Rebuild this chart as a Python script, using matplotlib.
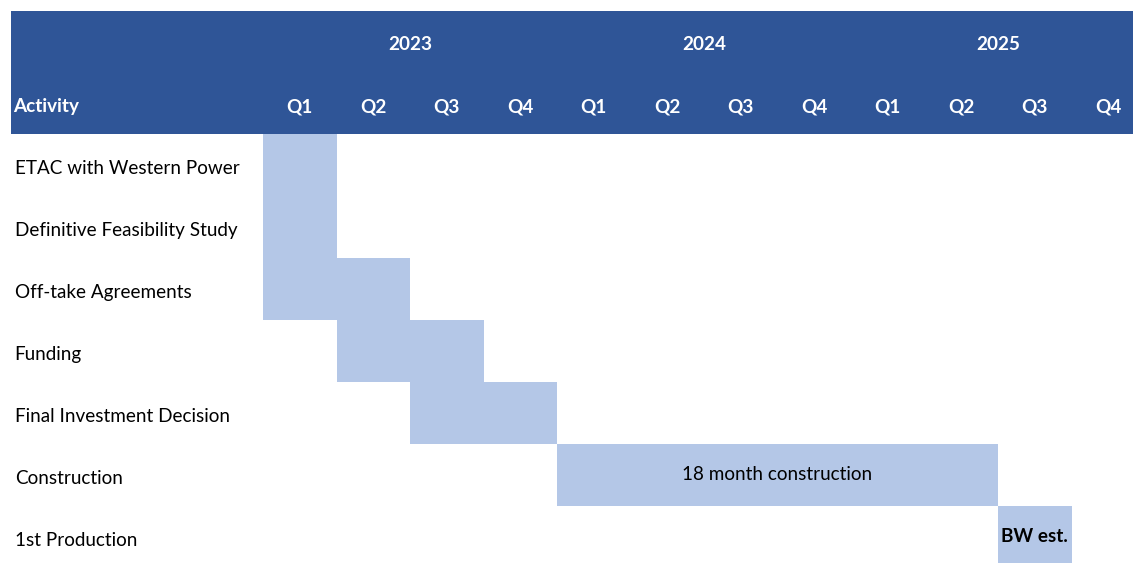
import matplotlib.pyplot as plt
from matplotlib.patches import Rectangle

# timeline: 2023 Q1 .. 2025 Q4, one unit per quarter
years = ["2023", "2024", "2025"]
quarters = ["Q1", "Q2", "Q3", "Q4"]

activities = ["ETAC with Western Power", "Definitive Feasibility Study",
              "Off-take Agreements", "Funding", "Final Investment Decision",
              "Construction", "1st Production"]
start_q = [0, 0, 0, 1, 2, 4, 10]      # quarter index where bar starts
length_q = [1, 1, 2, 2, 2, 6, 1]      # number of quarters
bar_notes = ["", "", "", "", "", "18 month construction", "BW est."]
note_bold = [False, False, False, False, False, False, True]

HEAD = "#2F5597"
BAR = "#B4C7E7"
FS = 13.6
plt.rcParams['font.family'] = ['Lato', 'DejaVu Sans']

fig = plt.figure(figsize=(11.33, 5.63), dpi=100)
ax = fig.add_axes([0, 0, 1, 1])
# pixel layout: quarter 0 starts at x=263, 73.5 px per quarter; rows 62 px from y=134
ax.set_xlim(-263 / 73.5, (1133 - 263) / 73.5)
ax.set_ylim((563 - 134) / 62, -134 / 62)
ax.axis("off")

# header band
head_left = (11 - 263) / 73.5
ax.add_patch(Rectangle((head_left, -123 / 62), 20, 123 / 62, color=HEAD, lw=0))
for i, y in enumerate(years):
    ax.text(i * 4 + 2, -1.44, y, color="white", fontsize=FS, fontweight="bold",
            ha="center", va="center")
for i in range(len(years) * 4):
    ax.text(i + 0.5, -0.44, quarters[i % 4], color="white", fontsize=FS,
            fontweight="bold", ha="center", va="center")
ax.text(head_left + 0.035, -0.44, "Activity", color="white", fontsize=FS,
        fontweight="bold", ha="left", va="center")

# bars
for r, name in enumerate(activities):
    ax.add_patch(Rectangle((start_q[r], r), length_q[r], 1, color=BAR, lw=0))
    ax.text(head_left + 0.05, r + 0.55, name, color="black", fontsize=FS,
            ha="left", va="center")
    if bar_notes[r]:
        ax.text(start_q[r] + length_q[r] / 2, r + 0.5, bar_notes[r], color="black",
                fontsize=FS, fontweight="bold" if note_bold[r] else "normal",
                ha="center", va="center")

fig.savefig("out.png", dpi=100)
